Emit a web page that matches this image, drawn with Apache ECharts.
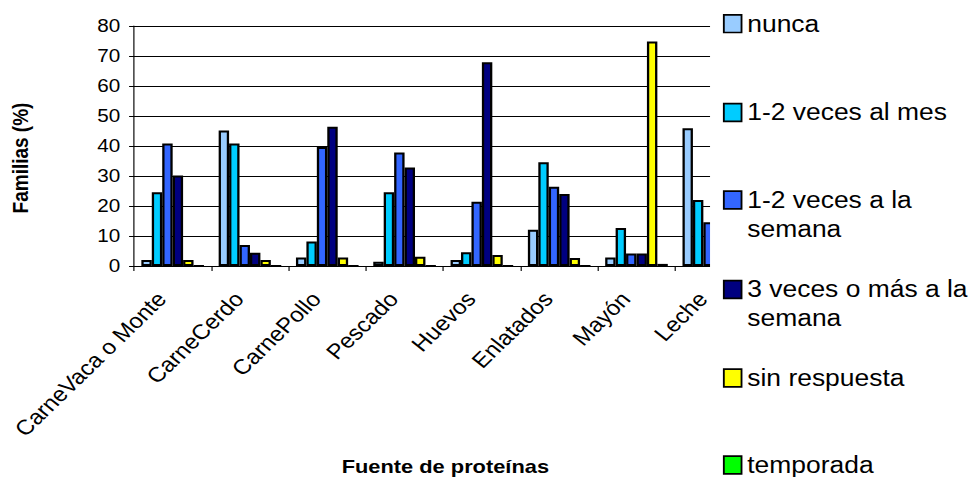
<!DOCTYPE html>
<html>
<head>
<meta charset="utf-8">
<script src="https://cdn.jsdelivr.net/npm/echarts@6/dist/echarts.min.js"></script>
<style>
  html, body { margin: 0; padding: 0; background: #fff; overflow: hidden; }
  #wrap { width: 970px; height: 477px; overflow: hidden; }
  /* the chart is laid out on a narrower canvas and widened horizontally */
  #chart { width: 844px; height: 477px; transform: scaleX(1.1493); transform-origin: 0 0; }
</style>
</head>
<body>
<div id="wrap"><div id="chart"></div></div>
<script>
// Protein sources
const categories = ['CarneVaca o Monte', 'CarneCerdo', 'CarnePollo', 'Pescado', 'Huevos', 'Enlatados', 'Mayón', 'Leche'];

// Share of families (%) by consumption frequency
const nunca       = [2.0, 45.2, 2.8, 1.4, 2.0, 12.1, 2.8, 45.9];
const vecesMes    = [24.6, 40.8, 8.2, 24.6, 4.6, 34.6, 12.7, 22.0];
const vecesSemana = [40.8, 7.0, 39.7, 37.8, 21.4, 26.4, 4.2, 14.6];
const tresOMas    = [30.2, 4.4, 46.4, 32.8, 67.9, 24.0, 4.2, null];
const sinResp     = [2.0, 2.0, 2.8, 3.1, 3.7, 2.7, 74.8, null];
const temporada   = [0, 0, 0, 0, 0, 0, 0.7, null];

const seriesNames = ['nunca', '1-2 veces al mes', '1-2 veces a la semana', '3 veces o más a la semana', 'sin respuesta', 'temporada'];
// legend entries: a leading blank line keeps the first line level with the swatch
const legendText  = ['nunca', '1-2 veces al mes', ' \n1-2 veces a la\nsemana', ' \n3 veces o más a la\nsemana', 'sin respuesta', 'temporada'];
const seriesData  = [nunca, vecesMes, vecesSemana, tresOMas, sinResp, temporada];
const colors      = ['#99CCFF', '#00CCFF', '#3366FF', '#000080', '#FFFF00', '#00FF00'];

const yTicks = { min: 0, max: 80, interval: 10 };

const chart = echarts.init(document.getElementById('chart'), null, { renderer: 'svg' });

const FONT = 'Liberation Sans, Arial, sans-serif';
const LH = 29;
const legendCenters = [23.7, 112.5, 200, 289.5, 378, 465];

const legends = seriesNames.map((name, i) => {
  const lines = legendText[i].split('\n').length;
  return {
    data: [name],
    orient: 'vertical',
    left: 629,
    top: legendCenters[i] - lines * LH / 2,
    itemWidth: 15.4,
    itemHeight: 17.7,
    itemGap: 0,
    padding: 0,
    z: 200,
    selectedMode: false,
    icon: 'rect',
    itemStyle: { borderColor: '#000', borderWidth: 1.6 },
    formatter: () => legendText[i],
    textStyle: { fontFamily: FONT, fontSize: 23, color: '#000', lineHeight: LH }
  };
});

chart.setOption({
  animation: false,
  backgroundColor: '#fff',
  grid: { left: 116.6, top: 26, width: 538.1, height: 240 },
  legend: legends,
  xAxis: {
    type: 'category',
    data: categories,
    axisLine: { lineStyle: { color: '#000', width: 1 } },
    axisTick: { show: true, length: 5, alignWithLabel: false, lineStyle: { color: '#000' } },
    axisLabel: { rotate: 48, margin: 19, padding: [0, 14, 0, 0], fontFamily: FONT, fontSize: 21, color: '#000', interval: 0 }
  },
  yAxis: {
    type: 'value',
    min: yTicks.min, max: yTicks.max, interval: yTicks.interval,
    axisLine: { show: true, lineStyle: { color: '#000', width: 1 } },
    axisTick: { show: true, length: 4.3, lineStyle: { color: '#000' } },
    axisLabel: { margin: 12, fontFamily: FONT, fontSize: 18, color: '#000' },
    splitLine: { show: true, lineStyle: { color: '#000', width: 1 } }
  },
  graphic: [
    {
      type: 'rect', z: 100, silent: true,
      shape: { x: 617.8, y: 0, width: 240, height: 477 },
      style: { fill: '#fff' }
    },
    {
      type: 'text', z: 100, silent: true,
      x: 17.4, y: 158, rotation: Math.PI / 2,
      style: { text: 'Familias (%)', font: 'bold 19px ' + FONT, fill: '#000', align: 'center', verticalAlign: 'middle' }
    },
    {
      type: 'text', z: 100, silent: true,
      x: 387.5, y: 466,
      style: { text: 'Fuente de proteínas', font: 'bold 19px ' + FONT, fill: '#000', align: 'center', verticalAlign: 'middle' }
    }
  ],
  series: seriesNames.map((name, i) => ({
    name: name,
    type: 'bar',
    data: seriesData[i],
    barGap: '0%',
    barCategoryGap: '19%',
    itemStyle: { color: colors[i], borderColor: '#000', borderWidth: 2 }
  }))
});
</script>
</body>
</html>
